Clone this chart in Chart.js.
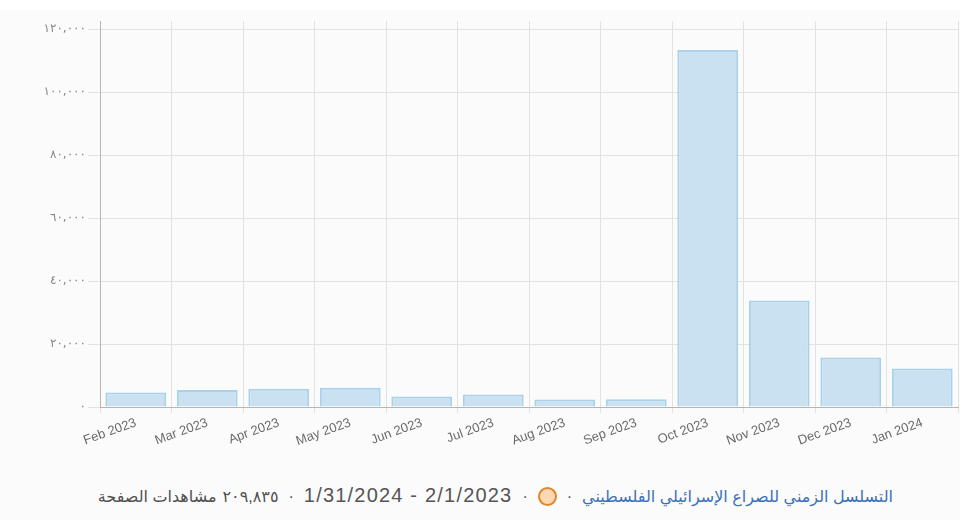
<!DOCTYPE html>
<html>
<head>
<meta charset="utf-8">
<script src="https://cdn.jsdelivr.net/npm/chart.js@4"></script>
<style>
  html, body { margin: 0; padding: 0; }
  body { width: 960px; height: 520px; background: #fbfbfb; position: relative; overflow: hidden;
         font-family: "Liberation Sans", Arial, "DejaVu Sans", sans-serif; }
  .topstrip { position: absolute; left: 0; top: 0; width: 960px; height: 10px; background: #fff; }
  .wrap { position: absolute; left: 0; top: 0; width: 960px; height: 460px; }
  .legend { position: absolute; right: 67px; top: 482px; direction: rtl; font-size: 16px;
            color: #505050; white-space: nowrap; line-height: 26px; }
  .legend .title { color: #3a70b8; }
  .legend .sep { margin: 0 10px; }
  .legend .dates { display: inline-block; direction: ltr; unicode-bidi: isolate; font-size: 20px;
                   letter-spacing: 1.2px; color: #555; }
  .legend .num { letter-spacing: 3px; margin-left: 6px; }
  .legend .dot { display: inline-block; width: 15px; height: 15px; border-radius: 50%;
                 border: 2px solid #e0852c; background: #fcd9b3; vertical-align: -4px; }
</style>
</head>
<body>
<div class="topstrip"></div>
<div class="wrap"><canvas id="chart"></canvas></div>
<div class="legend"><span class="title">التسلسل الزمني للصراع الإسرائيلي الفلسطيني</span><span class="sep">·</span><span class="dot"></span><span class="sep">·</span><span class="dates">1/31/2024 - 2/1/2023</span><span class="sep">·</span><span class="num">٢٠٩,٨٣٥</span>مشاهدات الصفحة</div>
<script>
// بيانات المشاهدات الشهرية
const months = ['Feb 2023', 'Mar 2023', 'Apr 2023', 'May 2023', 'Jun 2023', 'Jul 2023',
                'Aug 2023', 'Sep 2023', 'Oct 2023', 'Nov 2023', 'Dec 2023', 'Jan 2024'];
const views = [4600, 5400, 5800, 6100, 3300, 4000, 2400, 2500, 113300, 33800, 15700, 12200];

const yTickValues = [0, 20000, 40000, 60000, 80000, 100000, 120000];
const yTickLabels = ['٠', '٢٠,٠٠٠', '٤٠,٠٠٠', '٦٠,٠٠٠', '٨٠,٠٠٠', '١٠٠,٠٠٠', '١٢٠,٠٠٠'];

const ctx = document.getElementById('chart').getContext('2d');
new Chart(ctx, {
  type: 'bar',
  data: {
    labels: months,
    datasets: [{
      label: 'مشاهدات الصفحة',
      data: views,
      backgroundColor: '#c9e1f1',
      borderColor: '#a9d1ea',
      borderWidth: 2,
      categoryPercentage: 1,
      barPercentage: 0.85,
    }]
  },
  options: {
    responsive: true,
    maintainAspectRatio: false,
    animation: false,
    layout: { padding: { top: 21, right: 2, bottom: 3, left: 0 } },
    plugins: {
      legend: { display: false },
      tooltip: { enabled: false }
    },
    scales: {
      y: {
        min: 0,
        max: 122540,
        afterBuildTicks: (s) => { s.ticks = yTickValues.map(v => ({ value: v })); },
        afterFit: (s) => { s.width = 100; },
        ticks: {
          callback: (val) => yTickLabels[yTickValues.indexOf(val)] ?? '',
          font: { size: 12, family: 'DejaVu Sans' },
          color: '#888',
          padding: 2,
        },
        grid: { color: '#e2e2e2', tickLength: 12 },
        border: { color: '#b5b5b5', width: 1 }
      },
      x: {
        afterFit: (s) => { s.height = 50; },
        ticks: {
          minRotation: 20,
          maxRotation: 20,
          font: { size: 13, family: 'Liberation Sans' },
          color: '#6a6a6a',
          padding: 2,
        },
        grid: { color: '#e2e2e2', tickLength: 6 },
        border: { color: '#b5b5b5', width: 1 }
      }
    }
  }
});
</script>
</body>
</html>
